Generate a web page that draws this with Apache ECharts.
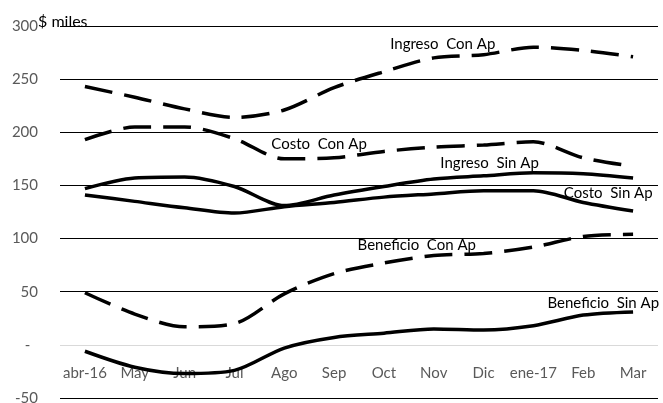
<!DOCTYPE html>
<html><head><meta charset="utf-8">
<script src="https://cdn.jsdelivr.net/npm/echarts@6/dist/echarts.min.js"></script>
<style>html,body{margin:0;padding:0;background:#fff}#c{width:663px;height:403px}</style>
</head><body><div id="c"></div>
<script>
var categories = ['abr-16','May','Jun','Jul','Ago','Sep','Oct','Nov','Dic','ene-17','Feb','Mar'];
var ingresoConAp = [243, 233, 222, 214, 221, 242, 257, 270, 273, 280, 277, 271];
var costoConAp = [193, 205, 205, 194, 175, 176, 182, 186, 188, 191, 176, 168];
var ingresoSinAp = [147, 157, 158, 149, 131, 141, 149, 156, 159, 162, 161, 157];
var costoSinAp = [141, 135, 129, 124, 130, 134, 139, 142, 145, 145, 134, 126];
var beneficioConAp = [49, 29, 17, 20, 48, 67, 77, 84, 86, 92, 102, 104];
var beneficioSinAp = [-6, -21, -27, -24, -3, 7, 11, 15, 14, 18, 28, 31];
var yTicks = {min: -50, max: 300, interval: 50};

var font = "Lato, 'Liberation Sans', sans-serif";
var gridTop = 26, gridBottom = 5, H = 403;
var zeroOffset = -Math.round((H - gridTop - gridBottom) * (0 - yTicks.min) / (yTicks.max - yTicks.min));
function mk(name, vals, dashed, labelIdx, off) {
  return {
    name: name, type: 'line', smooth: 0.3, symbol: 'none', z: 3,
    lineStyle: {color: '#000', width: 3.5, type: dashed ? [28, 12] : 'solid', cap: 'butt'},
    data: vals.map(function (v, i) {
      if (i !== labelIdx) return v;
      return {value: v, symbol: 'circle', symbolSize: 0.1,
        label: {show: true, position: 'top', distance: 0, offset: off, formatter: name,
          color: '#000', fontSize: 15, fontFamily: font}};
    })
  };
}
var chart = echarts.init(document.getElementById('c'));
chart.setOption({
  animation: false,
  grid: {left: 60, right: 5, top: gridTop, bottom: gridBottom, containLabel: false, outerBoundsMode: 'none'},
  xAxis: {type: 'category', data: categories, boundaryGap: true, position: 'bottom', offset: zeroOffset,
    axisLine: {show: false, onZero: false},
    axisTick: {show: false},
    axisLabel: {interval: 0, margin: 21, color: '#595959', fontSize: 15, fontFamily: font}},
  yAxis: {type: 'value', min: yTicks.min, max: yTicks.max, interval: yTicks.interval,
    axisLine: {show: false}, axisTick: {show: false},
    splitLine: {lineStyle: {color: ['#000', '#d9d9d9', '#000', '#000', '#000', '#000', '#000', '#000'], width: 1}},
    axisLabel: {margin: 22, color: '#595959', fontSize: 15, fontFamily: font,
      formatter: function (v) { return v === 0 ? '-  ' : String(v); }}},
  graphic: [{type: 'text', left: 38, top: 14,
    style: {text: '$ miles', fill: '#000', fontSize: 16, fontFamily: font}}],
  series: [
    mk('Ingreso  Con Ap', ingresoConAp, true, 7, [9, -6]),
    mk('Costo  Con Ap', costoConAp, true, 5, [-15, -6]),
    mk('Ingreso  Sin Ap', ingresoSinAp, false, 8, [6, -5]),
    mk('Costo  Sin Ap', costoSinAp, false, 10, [25, -2]),
    mk('Beneficio  Con Ap', beneficioConAp, true, 7, [-17, -3]),
    mk('Beneficio  Sin Ap', beneficioSinAp, false, 10, [20, -4])
  ]
});
</script></body></html>
